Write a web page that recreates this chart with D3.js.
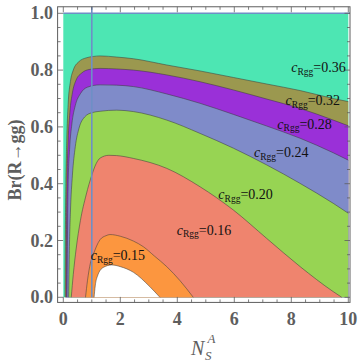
<!DOCTYPE html>
<html><head><meta charset="utf-8">
<script src="https://cdn.jsdelivr.net/npm/d3@7"></script>
<style>body{margin:0;background:#fff}svg{display:block}</style>
</head><body><svg id="c" width="360" height="364"></svg>
<script>
// ---- data ----
const levels = [0.36, 0.32, 0.28, 0.24, 0.20, 0.16, 0.15];
const bandColors = ["#4de6b3", "#9b984f", "#9a30d8", "#7f8bc9", "#97d453", "#ef846e", "#fc963f", "#ffffff"];
const xTicks = [0, 2, 4, 6, 8, 10];
const yTicks = [0, 0.2, 0.4, 0.6, 0.8, 1.0];
const xTickLabels = ["0", "2", "4", "6", "8", "10"];
const yTickLabels = ["0.0", "0.2", "0.4", "0.6", "0.8", "1.0"];
const markerX = 1;
const markerY = 1;

const curve036 = [[0.06,0],[0.07,0.2],[0.09,0.4],[0.12,0.55],[0.17,0.68],[0.25,0.76],[0.35,0.80],[0.55,0.83],[0.8,0.843],[1.05,0.848],[1.29,0.850],[1.87,0.846],[2.46,0.840],[3.63,0.818],[4.8,0.797],[5.97,0.774],[7.14,0.751],[8.31,0.728],[9.47,0.70],[10,0.689]];
const curve032 = [[0.10,0],[0.11,0.2],[0.13,0.4],[0.17,0.55],[0.23,0.65],[0.32,0.72],[0.45,0.765],[0.65,0.79],[0.9,0.802],[1.29,0.806],[1.87,0.804],[2.46,0.80],[3.63,0.783],[4.8,0.759],[5.97,0.73],[7.14,0.698],[8.31,0.665],[9.47,0.624],[10,0.604]];
const curve028 = [[0.13,0],[0.145,0.2],[0.17,0.4],[0.22,0.52],[0.3,0.61],[0.42,0.675],[0.6,0.717],[0.85,0.74],[1.29,0.748],[1.87,0.747],[2.46,0.742],[3.63,0.716],[4.8,0.683],[5.97,0.644],[7.14,0.603],[8.31,0.56],[9.47,0.509],[10,0.483]];
const curve024 = [[0.19,0],[0.21,0.15],[0.25,0.3],[0.32,0.43],[0.42,0.53],[0.55,0.595],[0.75,0.635],[1.0,0.65],[1.29,0.655],[1.87,0.659],[2.46,0.654],[3.63,0.624],[4.8,0.577],[5.97,0.525],[7.14,0.466],[8.31,0.401],[9.47,0.331],[10,0.296]];
const curve020 = [[0.28,0],[0.35,0.08],[0.45,0.17],[0.6,0.27],[0.8,0.36],[1.0,0.43],[1.15,0.47],[1.29,0.49],[1.6,0.5],[1.87,0.499],[2.46,0.489],[3.63,0.454],[4.8,0.389],[5.97,0.307],[7.14,0.207],[8.31,0.108],[9.47,0.02],[9.77,0]];
const curve016 = [[0.78,0],[0.85,0.06],[0.95,0.12],[1.05,0.15],[1.29,0.203],[1.5,0.217],[1.64,0.221],[2.0,0.215],[2.46,0.198],[2.81,0.178],[3.2,0.145],[3.63,0.108],[4.1,0.058],[4.56,0]];
const curve015 = [[1.08,0],[1.12,0.04],[1.2,0.075],[1.4,0.105],[1.7,0.114],[2.0,0.108],[2.46,0.088],[3.04,0.037],[3.39,0]];
const curves = [curve036, curve032, curve028, curve024, curve020, curve016, curve015];
// label anchor (data coords: left x, baseline y)
const labelX = [8.0, 7.8, 7.51, 6.69, 5.44, 3.98, 0.96];
const labelY = [0.792, 0.677, 0.594, 0.494, 0.346, 0.22, 0.131];

// ---- drawing ----
const svg = d3.select("#c");
const x = d3.scaleLinear().domain([0, 10]).range([63.3, 348.3]);
const y = d3.scaleLinear().domain([0, 1]).range([297.3, 13.3]);
const fr = {l: x(-0.2), r: x(10.06), t: y(1.023), b: y(-0.018)};
const axisCol = "#5e5e5e";
const serif = "'Liberation Serif','Times New Roman',Times,serif";

svg.append("rect").attr("x", x(0)).attr("y", y(1)).attr("width", x(10) - x(0))
  .attr("height", y(0) - y(1)).attr("fill", bandColors[0]);

const area = d3.area().x(d => x(d[0])).y0(y(0)).y1(d => y(d[1])).curve(d3.curveMonotoneX);
const line = d3.line().x(d => x(d[0])).y(d => y(d[1])).curve(d3.curveMonotoneX);

curves.forEach((c, i) => {
  svg.append("path").attr("d", area(c)).attr("fill", bandColors[i + 1]);
});
curves.forEach(c => {
  svg.append("path").attr("d", line(c)).attr("fill", "none")
    .attr("stroke", "#3a3a3a").attr("stroke-opacity", 0.75).attr("stroke-width", 0.7);
});

// marker lines
svg.append("line").attr("x1", x(0)).attr("x2", fr.r).attr("y1", y(markerY)).attr("y2", y(markerY))
  .attr("stroke", "#6e8fc6").attr("stroke-width", 1.6);
svg.append("line").attr("x1", x(markerX)).attr("x2", x(markerX)).attr("y1", y(0)).attr("y2", fr.t)
  .attr("stroke", "#6e8fc6").attr("stroke-width", 1.6);

// frame
svg.append("rect").attr("x", fr.l).attr("y", fr.t).attr("width", fr.r - fr.l).attr("height", fr.b - fr.t)
  .attr("fill", "none").attr("stroke", axisCol).attr("stroke-width", 1);

const xMinor = d3.range(0, 10.001, 0.5).filter(v => !xTicks.some(t => Math.abs(t - v) < 1e-6));
const yMinor = d3.range(0, 1.0001, 0.05).filter(v => !yTicks.some(t => Math.abs(t - v) < 1e-6));
const tg = svg.append("g").attr("stroke", axisCol).attr("stroke-width", 0.8);
function xt(v, len) {
  tg.append("line").attr("x1", x(v)).attr("x2", x(v)).attr("y1", fr.b).attr("y2", fr.b - len);
  tg.append("line").attr("x1", x(v)).attr("x2", x(v)).attr("y1", fr.t).attr("y2", fr.t + len);
}
function yt(v, len) {
  tg.append("line").attr("y1", y(v)).attr("y2", y(v)).attr("x1", fr.l).attr("x2", fr.l + len);
  tg.append("line").attr("y1", y(v)).attr("y2", y(v)).attr("x1", fr.r).attr("x2", fr.r - len);
}
xTicks.forEach(v => xt(v, 5.5)); xMinor.forEach(v => xt(v, 3));
yTicks.forEach(v => yt(v, 5.5)); yMinor.forEach(v => yt(v, 3));

svg.append("g").selectAll("text").data(xTicks).join("text")
  .attr("x", d => x(d)).attr("y", 325).attr("text-anchor", "middle")
  .attr("font-family", serif).attr("font-weight", "bold").attr("font-size", 18).attr("fill", axisCol)
  .text((d, i) => xTickLabels[i]);
svg.append("g").selectAll("text").data(yTicks).join("text")
  .attr("x", 53).attr("y", d => y(d) + 6).attr("text-anchor", "end")
  .attr("font-family", serif).attr("font-weight", "bold").attr("font-size", 18).attr("fill", axisCol)
  .text((d, i) => yTickLabels[i]);

// axis titles
svg.append("text").attr("transform", "translate(21,160) rotate(-90)").attr("text-anchor", "middle")
  .attr("font-family", serif).attr("font-weight", "bold").attr("font-size", 18).attr("fill", axisCol)
  .text("Br(R→gg)");
const xTitle = svg.append("text").attr("x", 191).attr("y", 355)
  .attr("font-family", serif).attr("font-style", "italic").attr("fill", axisCol).attr("font-size", 20);
xTitle.append("tspan").text("N");
xTitle.append("tspan").attr("x", 207.5).attr("y", 343).attr("font-size", 13).text("A");
xTitle.append("tspan").attr("x", 205).attr("y", 360).attr("font-size", 13).text("S");

// contour labels
levels.forEach((lv, i) => {
  const t = svg.append("text").attr("x", x(labelX[i])).attr("y", y(labelY[i]))
    .attr("font-family", serif).attr("font-size", 14).attr("fill", "#111");
  t.append("tspan").attr("font-style", "italic").text("c");
  t.append("tspan").attr("font-size", 9.5).attr("dy", 2.5).text("Rgg");
  t.append("tspan").attr("dy", -2.5).text("=" + lv.toFixed(2));
});
</script></body></html>
